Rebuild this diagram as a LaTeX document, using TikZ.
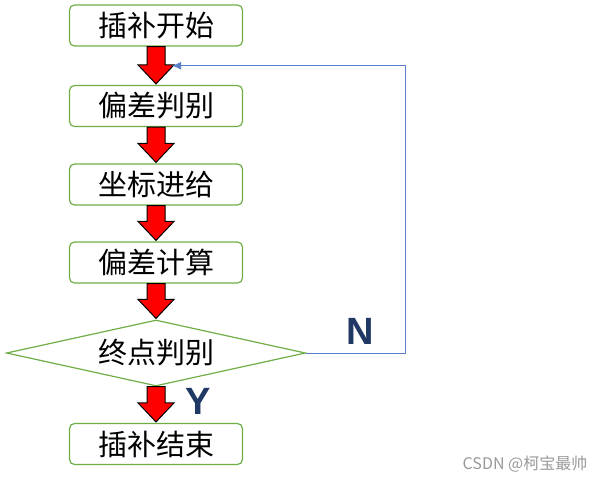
\documentclass[tikz,border=0pt]{standalone}
\usepackage{fontspec}
\setmainfont{Noto Sans CJK SC}
\newfontfamily\labelfont{Liberation Sans}
\usetikzlibrary{arrows.meta,calc,shapes.geometric}
\definecolor{boxgreen}{HTML}{70AD47}
\definecolor{fbblue}{HTML}{5B7FC8}
\definecolor{yndark}{HTML}{1F3864}

\begin{document}
\begin{tikzpicture}[x=1pt,y=-1pt,>={Latex[length=9pt,width=8pt]},
    stepbox/.style={draw=boxgreen,line width=1.2pt,rounded corners=5pt,fill=white,
      minimum width=173pt,minimum height=41pt,inner sep=0pt,font=\fontsize{29}{31}\selectfont},
    testbox/.style={diamond,draw=boxgreen,line width=1.2pt,aspect=4.5,inner sep=0pt,
      minimum width=299pt,minimum height=66pt,font=\fontsize{29}{31}\selectfont},
    flowarrow/.style={draw=black,fill=red,line width=1pt,line join=miter},
    yn/.style={font=\labelfont\bfseries\fontsize{38}{40}\selectfont,text=yndark}]
  \useasboundingbox (0,0) rectangle (608,482);
  % steps
  \node[stepbox] (start) at (156,25.5) {插补开始};
  \node[stepbox] (judge) at (156,106) {偏差判别};
  \node[stepbox] (feed) at (156,184.5) {坐标进给};
  \node[stepbox] (calc) at (156,262.5) {偏差计算};
  \node[testbox] (endtest) at (156,353) {终点判别};
  \node[stepbox] (stop) at (156,444) {插补结束};
  % red block arrows (shaft 18pt, head 36pt wide, 20pt long)
  \foreach \a/\b [count=\i] in {start/judge,judge/feed,feed/calc,calc/endtest,endtest/stop}
    \draw[flowarrow] let \p1=(\a.south), \p2=(\b.north) in
      (\x1-9pt,\y1) -- (\x1+9pt,\y1) -- (\x1+9pt,\y2+20pt) -- (\x1+18pt,\y2+20pt)
      -- (\x2,\y2+1pt) -- (\x1-18pt,\y2+20pt) -- (\x1-9pt,\y2+20pt) -- cycle;
  % loop back
  \coordinate (back) at ($(start.south)!0.5!(judge.north)+(16,0)$);
  \draw[fbblue,line width=1pt,->] (endtest.east) -- ++(99,0) |- (back);
  \node[yn] (no) at (360,331) {N};
  \node[yn] (yes) at (198,401) {Y};
  \node[text=gray!80,font=\fontsize{16}{18}\selectfont] (mark) at (525,464) {CSDN @柯宝最帅};
\end{tikzpicture}
\end{document}
